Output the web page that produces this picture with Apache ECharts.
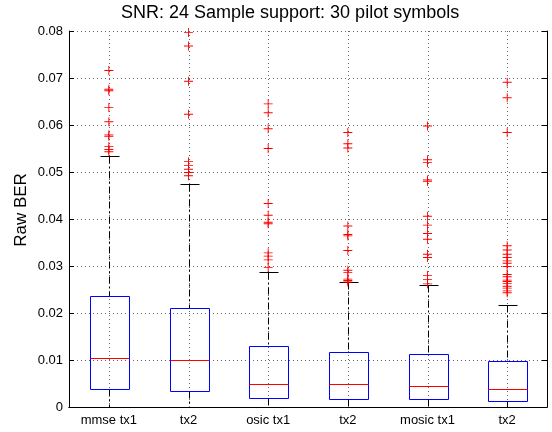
<!DOCTYPE html>
<html>
<head>
<meta charset="utf-8">
<script src="https://cdn.jsdelivr.net/npm/echarts@6/dist/echarts.min.js"></script>
<style>
html,body{margin:0;padding:0;background:#fff;}
#chart{width:552px;height:432px;}
</style>
</head>
<body>
<div id="chart"></div>
<script>
const titleText = 'SNR: 24 Sample support: 30 pilot symbols';
const yAxisName = 'Raw BER';
const categories = ['mmse tx1', 'tx2', 'osic tx1', 'tx2', 'mosic tx1', 'tx2'];
const yTicks = [0, 0.01, 0.02, 0.03, 0.04, 0.05, 0.06, 0.07, 0.08];

const lowerWhisker = [0, 0, 0, 0, 0, 0];
const q1 = [0.0039, 0.0033, 0.0019, 0.0016, 0.0016, 0.0013];
const median = [0.0104, 0.0099, 0.0050, 0.0048, 0.0044, 0.0038];
const q3 = [0.0237, 0.0211, 0.0129, 0.0116, 0.0113, 0.0098];
const upperWhisker = [0.0533, 0.0475, 0.0288, 0.0265, 0.0260, 0.0218];

const outMmseTx1 = [0.0716, 0.0676, 0.0673, 0.0637, 0.0607, 0.0579, 0.0576, 0.0554, 0.0548, 0.0543];
const outMmseTx2 = [0.0797, 0.0768, 0.0693, 0.0623, 0.0522, 0.0514, 0.0506, 0.0499, 0.0492];
const outOsicTx1 = [0.0645, 0.0626, 0.0592, 0.0550, 0.0433, 0.0408, 0.0393, 0.0390, 0.0328, 0.0321, 0.0313, 0.0297];
const outOsicTx2 = [0.0584, 0.0560, 0.0551, 0.0385, 0.0367, 0.0364, 0.0333, 0.0291, 0.0286, 0.0272, 0.0269, 0.0266];
const outMosicTx1 = [0.0598, 0.0526, 0.0520, 0.0483, 0.0480, 0.0406, 0.0387, 0.0369, 0.0357, 0.0325, 0.0318, 0.0280, 0.0271, 0.0262];
const outMosicTx2 = [0.0691, 0.0658, 0.0584, 0.0343, 0.0334, 0.0325, 0.0318, 0.0311, 0.0306, 0.0299, 0.0282, 0.0277, 0.0270, 0.0267, 0.0263, 0.0257, 0.0253, 0.0247, 0.0243];
const outliers = [outMmseTx1, outMmseTx2, outOsicTx1, outOsicTx2, outMosicTx1, outMosicTx2];

const boxData = categories.map((c, i) => [i, lowerWhisker[i], q1[i], median[i], q3[i], upperWhisker[i]]);
const outlierData = [];
outliers.forEach((arr, i) => arr.forEach(v => outlierData.push([i, v])));

const FONT = '"Liberation Sans", Arial, Helvetica, sans-serif';
const crisp = v => Math.round(v) + 0.5;

const chart = echarts.init(document.getElementById('chart'), null, {renderer: 'canvas'});
const option = {
  animation: false,
  backgroundColor: '#fff',
  textStyle: {fontFamily: FONT},
  graphic: [
    {type: 'text', left: 292 - 171, top: 4, style: {text: titleText, font: '18px ' + FONT, fill: '#000'}},
    {type: 'text', x: 21, y: 210, rotation: Math.PI / 2,
      style: {text: yAxisName, font: '17px ' + FONT, fill: '#000', align: 'center', verticalAlign: 'middle'}}
  ],
  grid: {left: 69, right: 5, top: 31, bottom: 25, containLabel: false},
  xAxis: [
    {type: 'category', data: categories, position: 'bottom', boundaryGap: true,
      axisLine: {lineStyle: {color: '#000', width: 1}},
      axisTick: {inside: true, alignWithLabel: true, length: 5, lineStyle: {color: '#000'}},
      axisLabel: {color: '#000', fontSize: 13, fontFamily: FONT, margin: 7, interval: 0},
      splitLine: {show: false}},
    {type: 'category', data: categories, position: 'top', boundaryGap: true,
      axisLine: {lineStyle: {color: '#000', width: 1}},
      axisTick: {inside: true, alignWithLabel: true, length: 5, lineStyle: {color: '#000'}},
      axisLabel: {show: false},
      splitLine: {show: false}}
  ],
  yAxis: [
    {type: 'value', min: 0, max: 0.08, interval: 0.01, position: 'left',
      axisLine: {show: true, lineStyle: {color: '#000', width: 1}},
      axisTick: {show: true, inside: true, length: 5, lineStyle: {color: '#000'}},
      axisLabel: {color: '#000', fontSize: 13, fontFamily: FONT, margin: 6,
        formatter: v => (v === 0 ? '0' : v.toFixed(2))},
      splitLine: {show: true, lineStyle: {color: '#666', type: [1, 3], width: 1}}},
    {type: 'value', min: 0, max: 0.08, interval: 0.01, position: 'right',
      axisLine: {show: true, lineStyle: {color: '#000', width: 1}},
      axisTick: {show: true, inside: true, length: 5, lineStyle: {color: '#000'}},
      axisLabel: {show: false},
      splitLine: {show: false}}
  ],
  series: [
    {
      type: 'custom', name: 'vgrid', silent: true, z: 1,
      xAxisIndex: 0, yAxisIndex: 0,
      data: boxData,
      encode: {x: 0, y: [1, 2, 3, 4, 5]},
      renderItem: function (params, api) {
        const i = api.value(0);
        const top = api.coord([i, 0.08]);
        const bot = api.coord([i, 0]);
        const x = crisp(top[0]);
        return {type: 'line', shape: {x1: x, y1: top[1], x2: x, y2: bot[1]},
          style: {stroke: '#666', lineWidth: 1, lineDash: [1, 3], fill: null}};
      }
    },
    {
      type: 'custom', name: 'boxes', silent: true, z: 3,
      xAxisIndex: 0, yAxisIndex: 0,
      data: boxData,
      encode: {x: 0, y: [1, 2, 3, 4, 5]},
      renderItem: function (params, api) {
        const i = api.value(0);
        const band = api.size([1, 0])[0];
        const half = band * 0.25;
        const capHalf = band * 0.125;
        const cx = crisp(api.coord([i, 0])[0]);
        const yWL = crisp(api.coord([i, api.value(1)])[1]);
        const yQ1 = crisp(api.coord([i, api.value(2)])[1]);
        const yMed = crisp(api.coord([i, api.value(3)])[1]);
        const yQ3 = crisp(api.coord([i, api.value(4)])[1]);
        const yWH = crisp(api.coord([i, api.value(5)])[1]);
        const x0 = crisp(cx - half), x1 = crisp(cx + half);
        const dash = [7, 3, 2, 3];
        return {
          type: 'group',
          children: [
            {type: 'line', shape: {x1: cx, y1: yWH, x2: cx, y2: yQ3},
              style: {stroke: '#000', lineWidth: 1, lineDash: dash, fill: null}},
            {type: 'line', shape: {x1: cx, y1: yQ1, x2: cx, y2: yWL},
              style: {stroke: '#000', lineWidth: 1, lineDash: dash, fill: null}},
            {type: 'line', shape: {x1: crisp(cx - capHalf), y1: yWH, x2: crisp(cx + capHalf), y2: yWH},
              style: {stroke: '#000', lineWidth: 1, fill: null}},
            {type: 'line', shape: {x1: crisp(cx - capHalf), y1: yWL, x2: crisp(cx + capHalf), y2: yWL},
              style: {stroke: '#000', lineWidth: 1, fill: null}},
            {type: 'rect', shape: {x: x0, y: yQ3, width: x1 - x0, height: yQ1 - yQ3},
              style: {stroke: '#0000ff', lineWidth: 1, fill: null}},
            {type: 'line', shape: {x1: x0, y1: yMed, x2: x1, y2: yMed},
              style: {stroke: '#ff0000', lineWidth: 1, fill: null}}
          ]
        };
      }
    },
    {
      type: 'scatter', name: 'outliers', silent: true, z: 4,
      xAxisIndex: 0, yAxisIndex: 0,
      data: outlierData,
      symbol: 'path://M0,4.5H10V5.5H0Z M4.5,0H5.5V10H4.5Z',
      symbolSize: 9,
      itemStyle: {color: '#ff0000', opacity: 1},
      clip: false
    }
  ]
};
chart.setOption(option);
</script>
</body>
</html>
